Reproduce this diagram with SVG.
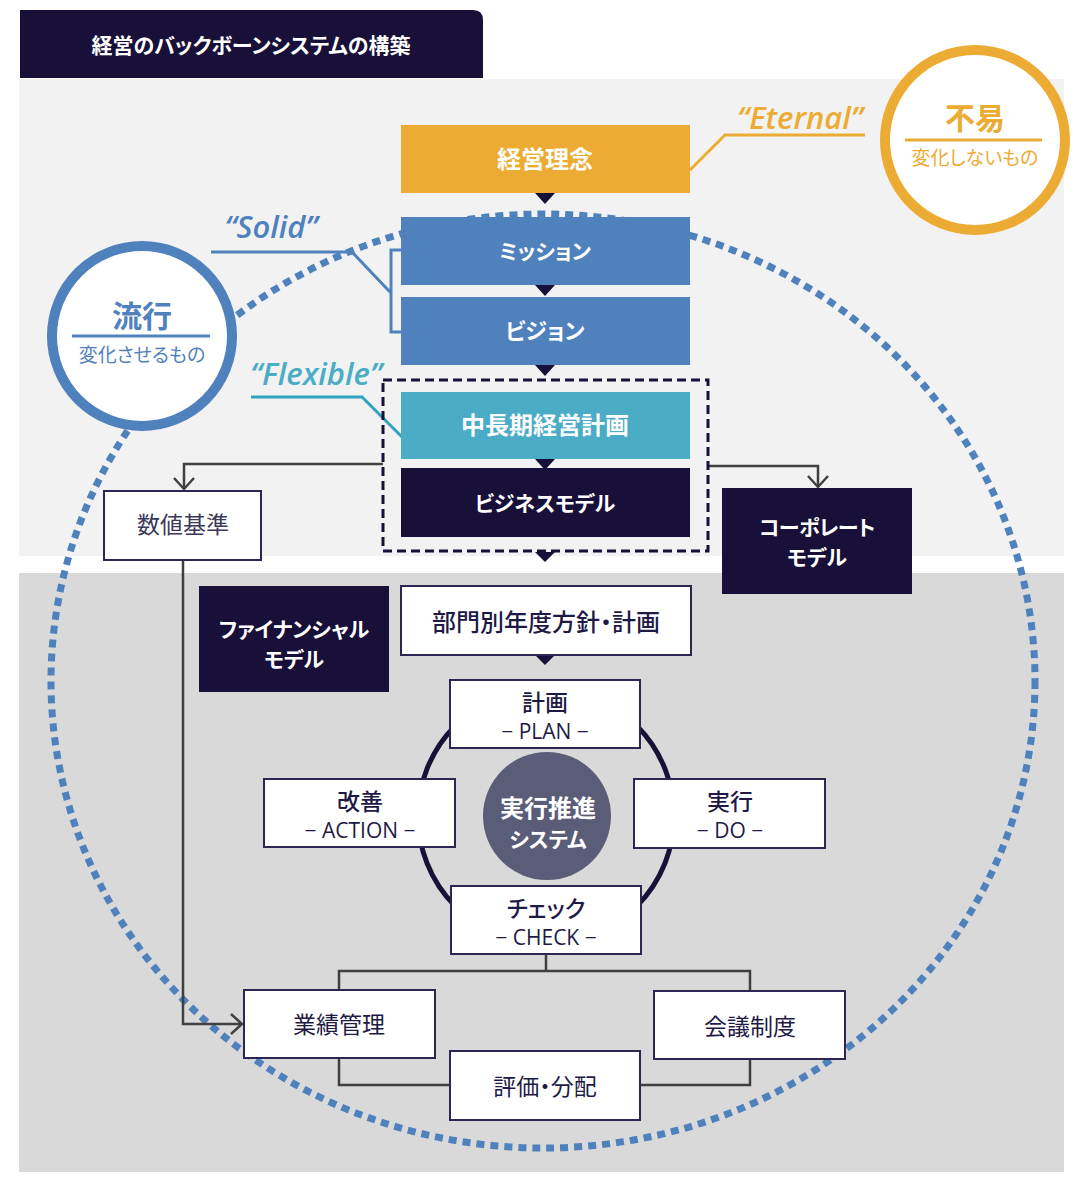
<svg xmlns="http://www.w3.org/2000/svg" width="1080" height="1191" viewBox="0 0 1080 1191">
<defs>
<style>
text{font-family:"Noto Sans CJK JP","Noto Sans",sans-serif;font-feature-settings:"palt";text-anchor:middle}
.wb{fill:#ffffff;font-weight:700;font-size:22px}
.kn{font-size:21px}
.dk{fill:#1e1a45;font-size:23px}
.dm{fill:#1e1a45;font-size:23px;font-weight:500}
.en{fill:#1e1a45;font-size:21px;font-family:"Open Sans","Noto Sans",sans-serif}
.wbox{fill:#ffffff;stroke:#2b2752;stroke-width:2}
.navy{fill:#181038}
.conn{fill:none;stroke:#404040;stroke-width:2.5}
.lab{font-family:"Open Sans","Noto Sans",sans-serif;font-style:italic;font-weight:600;font-size:31px}
</style>
<marker id="chev" markerUnits="userSpaceOnUse" markerWidth="24" markerHeight="24" viewBox="0 0 24 24" refX="20" refY="12" orient="auto">
<path d="M9 2 L20 12 L9 22" fill="none" stroke="#404040" stroke-width="2.5"/>
</marker>
</defs>

<!-- backgrounds -->
<rect x="19" y="79" width="1045" height="477" fill="#f2f2f2"/>
<rect x="19" y="573" width="1045" height="599" fill="#d9d9d9"/>

<g id="title">
<path d="M20 10 H473 Q483 10 483 20 V78 H20 Z" fill="#181038"/>
<text x="251" y="53" class="wb" style="font-size:21px">経営のバックボーンシステムの構築</text>
</g>

<!-- big dotted ellipse -->
<ellipse cx="543" cy="681" rx="492" ry="467" fill="none" stroke="#4f81bd" stroke-width="7" stroke-dasharray="8 6"/>

<g id="connectors">
<path class="conn" d="M383 464 H184 V489" marker-end="url(#chev)"/>
<path class="conn" d="M708 466 H818 V487" marker-end="url(#chev)"/>
<path class="conn" d="M183 560 V1024 H242" marker-end="url(#chev)"/>
<path class="conn" d="M546 954 V971 M339 990 V971 H750 V991"/>
<path class="conn" d="M339 1058 V1085 H450 M640 1085 H750 V1059"/>
<circle cx="546" cy="816" r="128" fill="none" stroke="#181038" stroke-width="5"/>
<!-- Eternal / Solid / Flexible leader lines -->
<path d="M865 135 H725 L690 170" fill="none" stroke="#ecab33" stroke-width="3"/>
<path d="M211 252 H352 L390 292 M401 250 H391 V332 H401" fill="none" stroke="#4f81bd" stroke-width="3"/>
<path d="M251 397 H362 L403 438" fill="none" stroke="#2fa3c1" stroke-width="3"/>
<!-- down triangles -->
<path class="navy" d="M535 193 H555 L545 204 Z"/>
<path class="navy" d="M535 285 H555 L545 296 Z"/>
<path class="navy" d="M535 365 H555 L545 376 Z"/>
<path class="navy" d="M535 459 H555 L545 470 Z"/>
<path class="navy" d="M535 552 H555 L545 562 Z"/>
<path class="navy" d="M535 655 H555 L545 665 Z"/>
</g>

<g id="n-keiei-rinen">
<rect x="401" y="125" width="289" height="68" fill="#ecab33"/>
<text x="545" y="168" class="wb" style="font-size:24px">経営理念</text>
</g>
<g id="n-mission">
<rect x="401" y="217" width="289" height="68" fill="#4f81bd"/>
<text x="545" y="259" class="wb kn">ミッション</text>
</g>
<g id="n-vision">
<rect x="401" y="297" width="289" height="68" fill="#4f81bd"/>
<text x="545" y="339" class="wb">ビジョン</text>
</g>
<g id="n-dashed">
<rect x="383" y="380" width="325" height="171" fill="none" stroke="#181038" stroke-width="3" stroke-dasharray="9 5"/>
</g>
<g id="n-chuuki">
<rect x="401" y="392" width="289" height="67" fill="#4bacc6"/>
<text x="545" y="434" class="wb" style="font-size:24px">中長期経営計画</text>
</g>
<g id="n-business">
<rect x="401" y="468" width="289" height="69" fill="#181038"/>
<text x="545" y="511" class="wb kn">ビジネスモデル</text>
</g>
<g id="n-suuchi">
<rect x="104" y="491" width="157" height="69" class="wbox"/>
<text x="183" y="533" class="dk" style="fill:#3b3858">数値基準</text>
</g>
<g id="n-corporate">
<rect x="722" y="488" width="190" height="106" fill="#181038"/>
<text x="817" y="535" class="wb kn" style="letter-spacing:-0.5px">コーポレート</text>
<text x="817" y="565" class="wb kn">モデル</text>
</g>
<g id="n-financial">
<rect x="199" y="586" width="190" height="106" fill="#181038"/>
<text x="294" y="637" class="wb kn">ファイナンシャル</text>
<text x="294" y="667" class="wb kn">モデル</text>
</g>
<g id="n-bumon">
<rect x="401" y="586" width="290" height="69" class="wbox"/>
<text x="546" y="631" class="dm" style="font-size:24px">部門別年度方針・計画</text>
</g>
<g id="n-center">
<circle cx="547" cy="816" r="64" fill="#5b5d78"/>
<text x="548" y="817" class="wb" style="font-size:24px">実行推進</text>
<text x="548" y="847" class="wb kn">システム</text>
</g>
<g id="n-plan">
<rect x="450" y="680" width="190" height="68" class="wbox"/>
<text x="545" y="711" class="dm">計画</text>
<text x="545" y="739" class="en">− PLAN −</text>
</g>
<g id="n-action">
<rect x="264" y="779" width="191" height="68" class="wbox"/>
<text x="360" y="810" class="dm">改善</text>
<text x="360" y="838" class="en">− ACTION −</text>
</g>
<g id="n-do">
<rect x="634" y="779" width="191" height="69" class="wbox"/>
<text x="730" y="810" class="dm">実行</text>
<text x="730" y="838" class="en">− DO −</text>
</g>
<g id="n-check">
<rect x="451" y="886" width="190" height="68" class="wbox"/>
<text x="546" y="917" class="dm">チェック</text>
<text x="546" y="945" class="en">− CHECK −</text>
</g>
<g id="n-gyouseki">
<rect x="244" y="990" width="191" height="68" class="wbox"/>
<text x="339" y="1033" class="dk">業績管理</text>
</g>
<g id="n-kaigi">
<rect x="654" y="991" width="191" height="68" class="wbox"/>
<text x="750" y="1035" class="dk">会議制度</text>
</g>
<g id="n-hyouka">
<rect x="450" y="1051" width="190" height="69" class="wbox"/>
<text x="545" y="1095" class="dk">評価・分配</text>
</g>

<g id="n-fueki">
<circle cx="975" cy="140" r="90" fill="#ffffff" stroke="#ecab33" stroke-width="10"/>
<text x="975" y="129" style="fill:#ecab33;font-size:30px;font-weight:700">不易</text>
<line x1="905" y1="140" x2="1042" y2="140" stroke="#ecab33" stroke-width="3"/>
<text x="975" y="165" style="fill:#ecab33;font-size:19px">変化しないもの</text>
</g>
<g id="n-ryuukou">
<circle cx="142" cy="336" r="90" fill="#ffffff" stroke="#4f81bd" stroke-width="10"/>
<text x="142" y="327" style="fill:#4f81bd;font-size:30px;font-weight:700">流行</text>
<line x1="72" y1="336" x2="210" y2="336" stroke="#4f81bd" stroke-width="3"/>
<text x="142" y="362" style="fill:#4f81bd;font-size:19px">変化させるもの</text>
</g>

<g id="labels">
<text x="800" y="129" class="lab" style="fill:#ecab33">“Eternal”</text>
<text x="271" y="238" class="lab" style="fill:#4f81bd">“Solid”</text>
<text x="316" y="385" class="lab" style="fill:#4bacc6">“Flexible”</text>
</g>
</svg>
